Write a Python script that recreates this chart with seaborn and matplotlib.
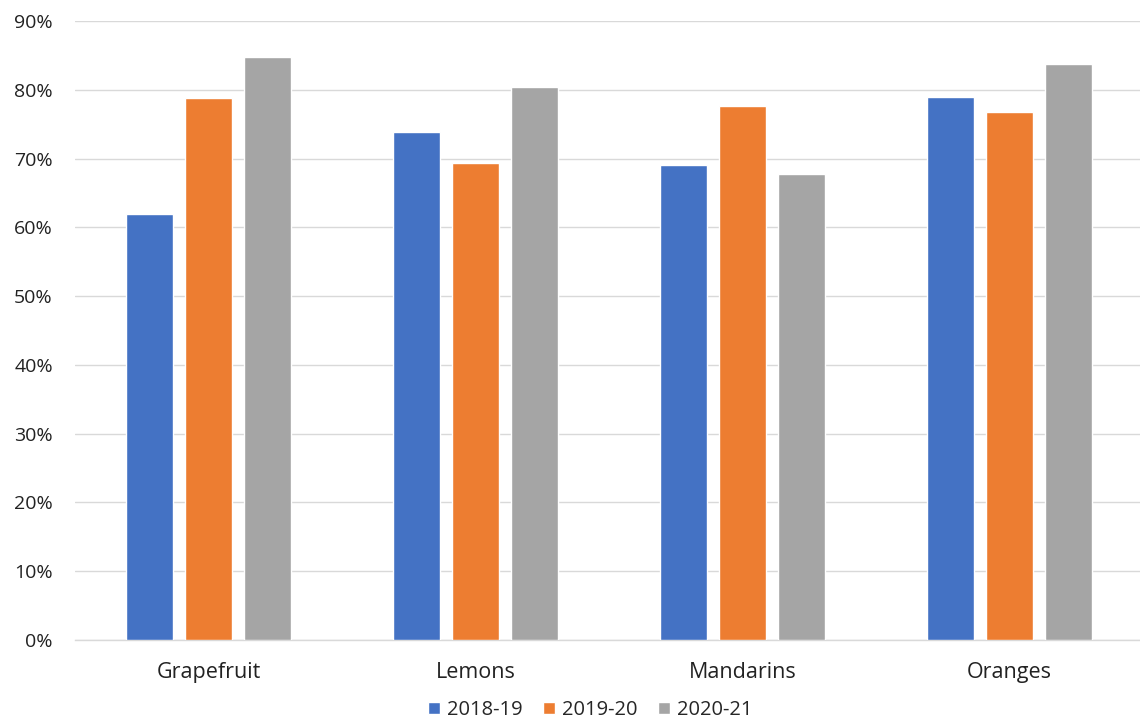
import matplotlib.pyplot as plt
import numpy as np
import pandas as pd
import seaborn as sns
from matplotlib.ticker import PercentFormatter

# Data
fruits = ['Grapefruit', 'Lemons', 'Mandarins', 'Oranges']
seasons = ['2018-19', '2019-20', '2020-21']
share_1819 = [62.0, 73.9, 69.1, 79.0]
share_1920 = [78.8, 69.3, 77.7, 76.7]
share_2021 = [84.7, 80.4, 67.7, 83.7]
colors = ['#4472C4', '#ED7D31', '#A5A5A5']

df = pd.DataFrame({
    'fruit': fruits * 3,
    'season': np.repeat(seasons, len(fruits)),
    'value': share_1819 + share_1920 + share_2021,
})

sns.set_style('white')
plt.rcParams['font.family'] = ['Open Sans', 'DejaVu Sans']

fig = plt.figure(figsize=(11.4, 7.21), dpi=100)
ax = fig.add_axes([75 / 1140, 1 - 640 / 721, 1068 / 1140, (640 - 21) / 721])

sns.barplot(data=df, x='fruit', y='value', hue='season', order=fruits,
            hue_order=seasons, palette=colors, width=0.666, gap=0.21,
            saturation=1, ax=ax, zorder=3)

ax.set_xlim(-0.5, 3.5)
ax.set_ylim(0, 90)
ax.set_yticks(np.arange(0, 91, 10))
ax.yaxis.set_major_formatter(PercentFormatter(decimals=0))
ax.grid(axis='y', color='#D9D9D9', linewidth=1, zorder=0)
ax.set_axisbelow(True)
for s in ['top', 'right', 'left']:
    ax.spines[s].set_visible(False)
ax.spines['bottom'].set_color('#D9D9D9')
ax.spines['bottom'].set_linewidth(1)
ax.tick_params(axis='both', length=0, colors='#222222')
ax.tick_params(axis='y', pad=16, labelsize=14)
ax.tick_params(axis='x', pad=16, labelsize=15.5)
ax.set_xlabel('')
ax.set_ylabel('')

ax.get_legend().remove()
handles, labels = ax.get_legend_handles_labels()
fig.legend(handles, labels, loc='center', bbox_to_anchor=(590 / 1140, 1 - 710 / 721),
           ncol=3, frameon=False, fontsize=14.5, handlelength=0.6, handleheight=0.6,
           handletextpad=0.35, columnspacing=1.0, borderpad=0)

fig.savefig('out.png', dpi=100)
